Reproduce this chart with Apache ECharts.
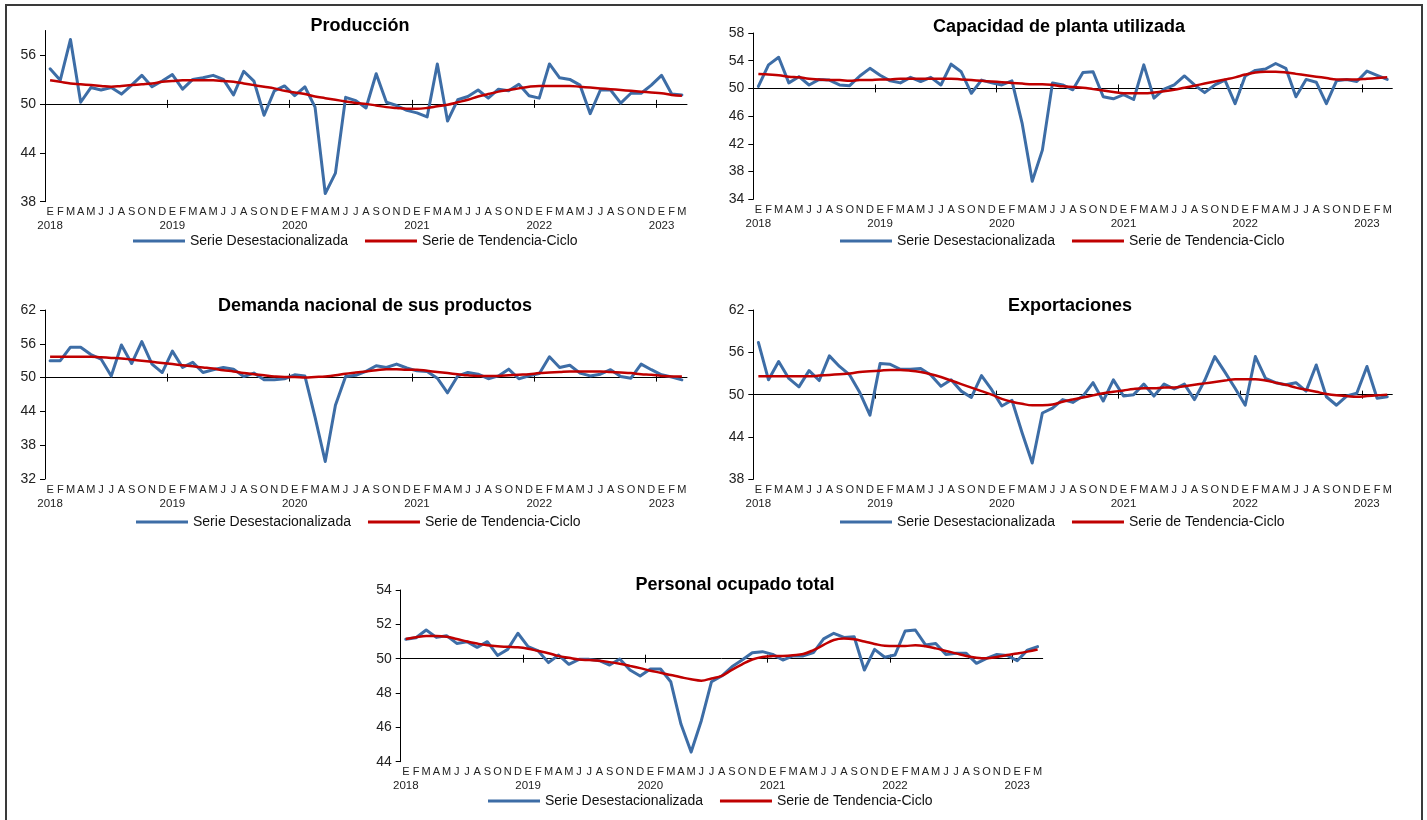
<!DOCTYPE html>
<html>
<head>
<meta charset="utf-8">
<title>Indicadores de Pedidos Manufactureros</title>
<script src="https://cdn.jsdelivr.net/npm/echarts@6/dist/echarts.min.js"></script>
<style>
  html, body { margin: 0; padding: 0; background: #fff; }
  #chart { width: 1427px; height: 820px; }
</style>
</head>
<body>
<div id="chart"></div>
<script>
'use strict';

// periodos: enero 2018 - marzo 2023
var mesesLetra = ['E', 'F', 'M', 'A', 'M', 'J', 'J', 'A', 'S', 'O', 'N', 'D'];
var anios = ['2018', '2019', '2020', '2021', '2022', '2023'];
var nombreSA = 'Serie Desestacionalizada';
var nombreTC = 'Serie de Tendencia-Ciclo';

// Producción
var prodSA = [54.3, 52.9, 57.9, 50.2, 52.0, 51.7, 52.0, 51.2, 52.3, 53.5, 52.1, 52.8,
  53.6, 51.8, 53.0, 53.2, 53.5, 53.0, 51.1, 54.0, 52.8, 48.6, 51.6, 52.2,
  51.0, 52.1, 49.6, 39.0, 41.5, 50.8, 50.4, 49.5, 53.7, 50.2, 49.8, 49.2,
  48.9, 48.4, 54.9, 47.9, 50.5, 50.9, 51.7, 50.7, 51.8, 51.6, 52.4, 51.0,
  50.7, 54.9, 53.2, 53.0, 52.3, 48.8, 51.7, 51.7, 50.1, 51.3, 51.3, 52.3,
  53.5, 51.2, 51.1];
var prodTC = [52.9, 52.7, 52.5, 52.4, 52.3, 52.2, 52.1, 52.2, 52.3, 52.4, 52.5, 52.7,
  52.8, 52.9, 52.9, 52.9, 52.9, 52.8, 52.7, 52.5, 52.3, 52.1, 51.9, 51.6,
  51.4, 51.2, 50.9, 50.7, 50.5, 50.3, 50.1, 50.0, 49.8, 49.6, 49.5, 49.4,
  49.4, 49.5, 49.7, 49.9, 50.2, 50.5, 50.9, 51.2, 51.5, 51.7, 51.9, 52.1,
  52.2, 52.2, 52.2, 52.2, 52.1, 52.0, 51.9, 51.8, 51.7, 51.6, 51.5, 51.4,
  51.3, 51.1, 51.0];

// Capacidad de planta utilizada
var capSA = [50.3, 53.4, 54.5, 50.8, 51.7, 50.5, 51.3, 51.2, 50.5, 50.4, 51.8, 52.9,
  51.9, 51.1, 50.8, 51.6, 51.0, 51.6, 50.5, 53.5, 52.4, 49.3, 51.2, 50.8,
  50.5, 51.1, 45.0, 36.6, 41.1, 50.8, 50.5, 49.8, 52.3, 52.4, 48.8, 48.5,
  49.1, 48.4, 53.4, 48.6, 49.9, 50.5, 51.8, 50.5, 49.4, 50.5, 51.2, 47.8,
  51.8, 52.6, 52.8, 53.6, 52.9, 48.8, 51.3, 50.9, 47.8, 51.1, 51.3, 51.0,
  52.5, 51.9, 51.3];
var capTC = [52.1, 52.0, 51.9, 51.7, 51.6, 51.4, 51.3, 51.2, 51.2, 51.1, 51.2, 51.2,
  51.3, 51.3, 51.4, 51.4, 51.4, 51.4, 51.4, 51.4, 51.3, 51.2, 51.1, 51.0,
  50.9, 50.8, 50.7, 50.6, 50.6, 50.5, 50.3, 50.2, 50.1, 49.9, 49.7, 49.5,
  49.3, 49.3, 49.3, 49.4, 49.6, 49.8, 50.1, 50.4, 50.7, 51.0, 51.3, 51.6,
  52.0, 52.3, 52.4, 52.4, 52.3, 52.1, 51.9, 51.7, 51.5, 51.3, 51.3, 51.3,
  51.4, 51.5, 51.6];

// Demanda nacional de sus productos
var demSA = [53.0, 53.0, 55.4, 55.4, 54.1, 53.3, 50.3, 55.8, 52.5, 56.4, 52.4, 50.9,
  54.7, 51.8, 52.7, 50.9, 51.4, 51.8, 51.5, 50.2, 50.8, 49.6, 49.6, 49.8,
  50.5, 50.3, 43.0, 35.1, 45.1, 50.2, 50.4, 51.1, 52.1, 51.8, 52.4, 51.7,
  51.2, 51.1, 49.9, 47.3, 50.3, 50.9, 50.6, 49.8, 50.3, 51.5, 49.8, 50.3,
  50.7, 53.7, 51.8, 52.2, 50.8, 50.3, 50.6, 51.4, 50.2, 49.9, 52.4, 51.4,
  50.5, 50.1, 49.6];
var demTC = [53.7, 53.7, 53.7, 53.7, 53.7, 53.6, 53.5, 53.4, 53.2, 53.0, 52.8, 52.6,
  52.4, 52.2, 52.0, 51.8, 51.6, 51.3, 51.1, 50.8, 50.6, 50.4, 50.2, 50.1,
  50.1, 50.0, 50.1, 50.2, 50.4, 50.7, 50.9, 51.1, 51.3, 51.5, 51.5, 51.4,
  51.4, 51.2, 51.0, 50.8, 50.6, 50.4, 50.3, 50.3, 50.3, 50.4, 50.5, 50.6,
  50.8, 50.9, 51.0, 51.1, 51.1, 51.1, 51.1, 51.0, 50.9, 50.8, 50.6, 50.5,
  50.3, 50.2, 50.2];

// Exportaciones
var expSA = [57.4, 52.1, 54.7, 52.3, 51.1, 53.4, 52.0, 55.5, 54.0, 52.8, 50.3, 47.1,
  54.4, 54.3, 53.6, 53.6, 53.7, 52.8, 51.2, 52.1, 50.5, 49.6, 52.7, 50.7,
  48.4, 49.2, 44.6, 40.3, 47.4, 48.1, 49.3, 48.9, 49.8, 51.7, 49.1, 52.1,
  49.8, 50.0, 51.5, 49.8, 51.5, 50.8, 51.5, 49.3, 52.0, 55.4, 53.2, 50.9,
  48.5, 55.4, 52.3, 51.7, 51.4, 51.7, 50.5, 54.2, 49.7, 48.5, 49.8, 50.2,
  54.0, 49.5, 49.7];
var expTC = [52.6, 52.6, 52.6, 52.6, 52.6, 52.6, 52.7, 52.8, 52.9, 53.0, 53.2, 53.3,
  53.4, 53.5, 53.5, 53.4, 53.2, 52.9, 52.5, 52.0, 51.5, 51.0, 50.5, 50.0,
  49.4, 49.0, 48.7, 48.5, 48.5, 48.6, 49.0, 49.3, 49.6, 49.9, 50.2, 50.4,
  50.6, 50.8, 50.9, 50.9, 51.0, 51.0, 51.2, 51.4, 51.6, 51.8, 52.0, 52.2,
  52.2, 52.2, 52.0, 51.7, 51.4, 51.0, 50.7, 50.4, 50.1, 49.9, 49.8, 49.7,
  49.8, 49.9, 50.0];

// Personal ocupado total
var persSA = [51.13, 51.22, 51.67, 51.24, 51.34, 50.89, 50.99, 50.66, 50.99, 50.19, 50.54, 51.48,
  50.70, 50.45, 49.77, 50.21, 49.67, 49.96, 49.96, 49.88, 49.63, 49.98, 49.34, 48.99,
  49.40, 49.40, 48.66, 46.19, 44.56, 46.39, 48.66, 48.99, 49.53, 49.92, 50.35, 50.41,
  50.25, 49.92, 50.16, 50.16, 50.35, 51.15, 51.48, 51.24, 51.28, 49.34, 50.54, 50.08,
  50.21, 51.61, 51.67, 50.80, 50.89, 50.25, 50.31, 50.31, 49.73, 50.02, 50.25, 50.19,
  49.88, 50.50, 50.70];
var persTC = [51.15, 51.25, 51.32, 51.32, 51.28, 51.15, 51.00, 50.88, 50.78, 50.72, 50.69, 50.66,
  50.58, 50.45, 50.32, 50.15, 50.05, 49.95, 49.92, 49.88, 49.80, 49.70, 49.58, 49.45,
  49.30, 49.18, 49.05, 48.92, 48.80, 48.72, 48.85, 49.00, 49.35, 49.67, 49.95, 50.10,
  50.15, 50.16, 50.20, 50.27, 50.50, 50.80, 51.09, 51.18, 51.13, 51.00, 50.86, 50.75,
  50.74, 50.74, 50.78, 50.72, 50.60, 50.45, 50.31, 50.16, 50.06, 50.02, 50.10, 50.21,
  50.30, 50.41, 50.54];

// marcas del eje vertical
var ticksProd = [38, 44, 50, 56];
var ticksCap = [34, 38, 42, 46, 50, 54, 58];
var ticksDem = [32, 38, 44, 50, 56, 62];
var ticksExp = [38, 44, 50, 56, 62];
var ticksPers = [44, 46, 48, 50, 52, 54];
// marcas de cambio de año sobre el eje horizontal (en meses desde enero 2018)
var ticksAnio = [12, 24, 36, 48, 60];

var periodos = [];
for (var i = 0; i < prodSA.length; i++) {
  periodos.push(anios[Math.floor(i / 12)] + '-' + (i % 12 + 1));
}

var fuente = 'Liberation Sans, Arial, sans-serif';
var azul = '#3D6DA6';
var rojo = '#C00000';

var paneles = [
  { titulo: 'Producción', sa: prodSA, tc: prodTC, ticks: ticksProd, yMin: 38, yMax: 59,
    caja: { left: 45, top: 30.5, width: 642, height: 171.2 }, tx: 360, ty: 26.5, lx: 133, ly: 241 },
  { titulo: 'Capacidad de planta utilizada', sa: capSA, tc: capTC, ticks: ticksCap, yMin: 34, yMax: 58,
    caja: { left: 753.3, top: 33, width: 639, height: 166.3 }, tx: 1059, ty: 27.5, lx: 840, ly: 241 },
  { titulo: 'Demanda nacional de sus productos', sa: demSA, tc: demTC, ticks: ticksDem, yMin: 32, yMax: 62,
    caja: { left: 45, top: 310, width: 642, height: 169 }, tx: 375, ty: 306, lx: 136, ly: 522 },
  { titulo: 'Exportaciones', sa: expSA, tc: expTC, ticks: ticksExp, yMin: 38, yMax: 62,
    caja: { left: 753.3, top: 310, width: 639, height: 169.3 }, tx: 1070, ty: 306, lx: 840, ly: 522 },
  { titulo: 'Personal ocupado total', sa: persSA, tc: persTC, ticks: ticksPers, yMin: 44, yMax: 54,
    caja: { left: 400.7, top: 590, width: 642, height: 171.7 }, tx: 735, ty: 585.5, lx: 488, ly: 801 }
];

function etiquetaMes(valor, idx) {
  var m = mesesLetra[idx % 12];
  if (idx % 12 === 0) {
    return '{m|' + m + '}\n{a|' + anios[idx / 12] + '}';
  }
  return '{m|' + m + '}';
}

var option = {
  backgroundColor: '#fff',
  animation: false,
  title: [],
  legend: [],
  grid: [],
  xAxis: [],
  yAxis: [],
  series: [],
  graphic: [{
    type: 'rect',
    shape: { x: 6, y: 5, width: 1416, height: 830 },
    style: { fill: 'none', stroke: '#3a3a3a', lineWidth: 2 },
    silent: true
  }]
};

paneles.forEach(function (p, k) {
  // distancia en pixeles del borde inferior a la linea de 50
  var h50 = p.caja.height * (50 - p.yMin) / (p.yMax - p.yMin);

  option.title.push({
    text: p.titulo,
    left: p.tx,
    top: p.ty,
    textAlign: 'center',
    textVerticalAlign: 'middle',
    padding: 0,
    textStyle: { fontSize: 18, fontWeight: 'bold', color: '#000', fontFamily: fuente }
  });

  option.legend.push({
    left: p.lx,
    top: p.ly - 7,
    padding: 0,
    icon: 'rect',
    itemWidth: 52,
    itemHeight: 3,
    itemGap: 17,
    selectedMode: false,
    data: [nombreSA, nombreTC],
    textStyle: { fontSize: 14, color: '#111', fontFamily: fuente }
  });

  option.grid.push({
    left: p.caja.left,
    top: p.caja.top,
    width: p.caja.width,
    height: p.caja.height,
    containLabel: false,
    outerBoundsMode: 'none'
  });

  // eje de meses: cruza en 50, etiquetas abajo
  option.xAxis.push({
    type: 'category',
    gridIndex: k,
    data: periodos,
    boundaryGap: true,
    position: 'bottom',
    offset: -h50,
    axisLine: { show: true, onZero: false, lineStyle: { color: '#000', width: 1 } },
    axisTick: { show: false },
    axisLabel: {
      interval: 0,
      margin: h50 + 4,
      formatter: etiquetaMes,
      rich: {
        m: { fontSize: 11, lineHeight: 13, color: '#222', fontFamily: fuente },
        a: { fontSize: 11.5, lineHeight: 15, color: '#222', fontFamily: fuente }
      }
    },
    splitLine: { show: false }
  });
  // marcas de año, cruzando la linea de 50 (hacia abajo y hacia arriba)
  [false, true].forEach(function (adentro) {
    option.xAxis.push({
      type: 'value',
      gridIndex: k,
      min: 0,
      max: periodos.length,
      position: 'bottom',
      offset: -h50,
      axisLine: { show: false, onZero: false },
      axisTick: { show: true, inside: adentro, length: 4, customValues: ticksAnio, lineStyle: { color: '#000' } },
      axisLabel: { show: false },
      splitLine: { show: false }
    });
  });

  option.yAxis.push({
    type: 'value',
    gridIndex: k,
    min: p.yMin,
    max: p.yMax,
    interval: p.ticks[1] - p.ticks[0],
    axisLine: { show: true, lineStyle: { color: '#000', width: 1 } },
    axisTick: { show: true, length: 5, customValues: p.ticks, lineStyle: { color: '#000' } },
    axisLabel: { customValues: p.ticks, margin: 9, fontSize: 14, color: '#222', fontFamily: fuente },
    splitLine: { show: false }
  });

  option.series.push({
    name: nombreSA,
    type: 'line',
    xAxisIndex: 3 * k,
    yAxisIndex: k,
    data: p.sa,
    symbol: 'none',
    color: azul,
    lineStyle: { color: azul, width: 3, join: 'round', cap: 'round' },
    z: 2
  });
  option.series.push({
    name: nombreTC,
    type: 'line',
    xAxisIndex: 3 * k,
    yAxisIndex: k,
    data: p.tc,
    symbol: 'none',
    smooth: 0.4,
    color: rojo,
    lineStyle: { color: rojo, width: 2.5 },
    z: 3
  });
});

var myChart = echarts.init(document.getElementById('chart'));
myChart.setOption(option);
</script>
</body>
</html>
